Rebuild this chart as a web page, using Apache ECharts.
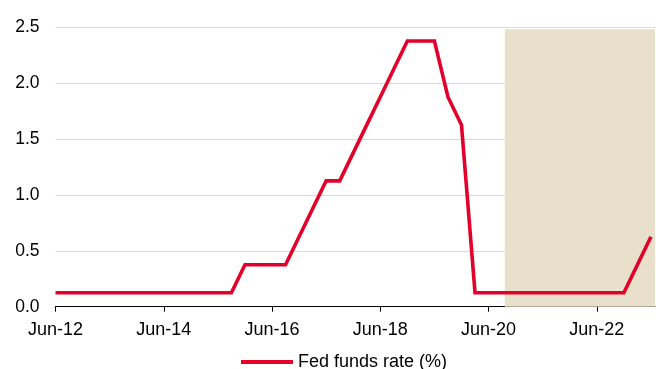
<!DOCTYPE html>
<html>
<head>
<meta charset="utf-8">
<script src="https://cdn.jsdelivr.net/npm/echarts@6/dist/echarts.min.js"></script>
<style>
  html, body { margin: 0; padding: 0; background: #fff; }
  #chart { width: 656px; height: 369px; }
</style>
</head>
<body>
<div id="chart"></div>
<script>
// Quarter-end observations, Jun-12 through Jun-23
const quarters = [
  'Jun-12','Sep-12','Dec-12','Mar-13','Jun-13','Sep-13','Dec-13','Mar-14',
  'Jun-14','Sep-14','Dec-14','Mar-15','Jun-15','Sep-15','Dec-15','Mar-16',
  'Jun-16','Sep-16','Dec-16','Mar-17','Jun-17','Sep-17','Dec-17','Mar-18',
  'Jun-18','Sep-18','Dec-18','Mar-19','Jun-19','Sep-19','Dec-19','Mar-20',
  'Jun-20','Sep-20','Dec-20','Mar-21','Jun-21','Sep-21','Dec-21','Mar-22',
  'Jun-22','Sep-22','Dec-22','Mar-23','Jun-23'
];

// Fed funds target range midpoint, %
const fedFunds = [
  0.125, 0.125, 0.125, 0.125, 0.125, 0.125, 0.125, 0.125,
  0.125, 0.125, 0.125, 0.125, 0.125, 0.125, 0.375, 0.375,
  0.375, 0.375, 0.625, 0.875, 1.125, 1.125, 1.375, 1.625,
  1.875, 2.125, 2.375, 2.375, 2.375, 1.875, 1.625, 0.125,
  0.125, 0.125, 0.125, 0.125, 0.125, 0.125, 0.125, 0.125,
  0.125, 0.125, 0.125, 0.375, 0.625
];

// Labelled x ticks (every two years)
const xTickLabels = ['Jun-12', 'Jun-14', 'Jun-16', 'Jun-18', 'Jun-20', 'Jun-22'];
const xTickStep = 8; // quarters between labelled ticks

// Forecast window, in quarter index units
const forecastStart = 33.2;
const forecastEnd = 44.3;
const forecastTop = 2.48;

const yTicks = [0, 0.5, 1.0, 1.5, 2.0, 2.5];

const lineData = fedFunds.map((v, i) => [i, v]);
const tickPositions = xTickLabels.map((_, k) => k * xTickStep);

const chart = echarts.init(document.getElementById('chart'), null, { renderer: 'canvas' });

chart.setOption({
  animation: false,
  textStyle: { fontFamily: 'Liberation Sans, Arial, sans-serif' },
  grid: { left: 55.5, right: 1, top: 27, bottom: 62.3, containLabel: false },
  legend: {
    data: ['Fed funds rate (%)'],
    left: 241,
    top: 353,
    itemWidth: 52,
    itemHeight: 4,
    itemGap: 10,
    icon: 'rect',
    textStyle: { fontSize: 18, color: '#000', padding: [0, 0, 0, 0] },
    padding: 0
  },
  xAxis: {
    type: 'value',
    min: 0,
    max: forecastEnd,
    interval: xTickStep,
    splitLine: { show: false },
    axisLine: { show: true, onZero: false, lineStyle: { color: '#000', width: 1 } },
    axisTick: {
      show: true,
      length: 5,
      lineStyle: { color: '#000', width: 1 },
      customValues: tickPositions
    },
    axisLabel: {
      fontSize: 18,
      color: '#000',
      margin: 14,
      customValues: tickPositions,
      formatter: v => xTickLabels[Math.round(v / xTickStep)] || ''
    }
  },
  yAxis: {
    type: 'value',
    min: 0,
    max: 2.5,
    interval: 0.5,
    axisLine: { show: false },
    axisTick: { show: false },
    splitLine: { show: true, lineStyle: { color: '#D9D9D9', width: 1.2 } },
    axisLabel: {
      fontSize: 17.5,
      color: '#000',
      margin: 16,
      verticalAlign: 'middle',
      padding: [3, 0, 0, 0],
      formatter: v => v.toFixed(1)
    }
  },
  series: [
    {
      name: 'Fed funds rate (%)',
      type: 'line',
      data: lineData,
      symbol: 'none',
      z: 5,
      lineStyle: { color: '#E3002B', width: 3.6, join: 'miter' },
      itemStyle: { color: '#E3002B' },
      markArea: {
        silent: true,
        itemStyle: { color: '#E8E0CA' },
        z: 1,
        data: [[
          { xAxis: forecastStart, yAxis: 0 },
          { xAxis: forecastEnd, yAxis: forecastTop }
        ]]
      }
    }
  ]
});
</script>
</body>
</html>
